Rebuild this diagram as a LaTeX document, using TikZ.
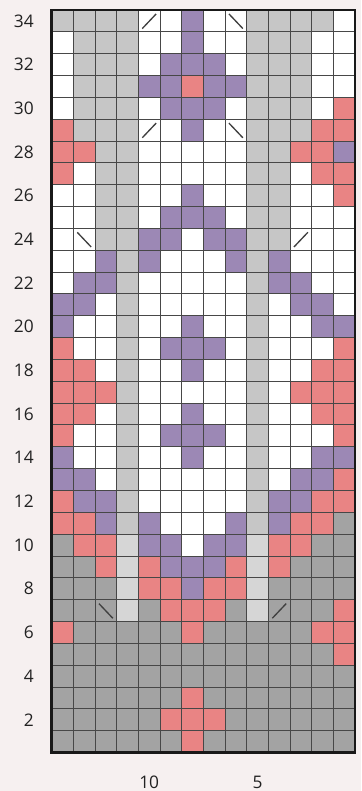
\documentclass[tikz,border=0pt]{standalone}
\usepackage{fontspec}
\setmainfont{Open Sans}
\definecolor{bg}{HTML}{F6F0F0}
\definecolor{cG}{HTML}{C6C6C6}
\definecolor{cD}{HTML}{A3A3A3}
\definecolor{cL}{HTML}{D6D6D6}
\definecolor{cW}{HTML}{FFFFFF}
\definecolor{cP}{HTML}{9C88B5}
\definecolor{cR}{HTML}{E98484}
\definecolor{ink}{HTML}{222222}
\def\cw{21.67}
\def\ch{21.84}
\def\gx{51.7}
\def\gy{10}
\newcommand\chartrow[2]{%
  \foreach \c [count=\i] in {#2} {
    \fill[c\c] ({\gx+(\i-1)*\cw},{\gy+(34-#1)*\ch}) rectangle ++(\cw,\ch);
  }}
\newcommand\slashcell[2]{% col, row : "/"
  \draw[diag] ({\gx+(#1-1+0.18)*\cw},{\gy+(34-#2+0.85)*\ch}) -- ({\gx+(#1-1+0.82)*\cw},{\gy+(34-#2+0.18)*\ch});}
\newcommand\bslashcell[2]{% col, row : "\"
  \draw[diag] ({\gx+(#1-1+0.18)*\cw},{\gy+(34-#2+0.18)*\ch}) -- ({\gx+(#1-1+0.82)*\cw},{\gy+(34-#2+0.85)*\ch});}
\begin{document}
\begin{tikzpicture}[x=0.75pt,y=-0.75pt,
  gridline/.style={draw=black!72,line width=0.75pt},
  diag/.style={draw=black!75,line width=1pt},
  lbl/.style={font=\fontsize{13}{15}\selectfont,text=ink,inner sep=0pt}]
\fill[bg] (0,0) rectangle (361,791);
\useasboundingbox (0,0) rectangle (361,791);
\chartrow{34}{G,G,G,G,W,W,P,W,W,G,G,G,G,W}
\chartrow{33}{W,G,G,G,W,W,P,W,W,G,G,G,W,W}
\chartrow{32}{W,G,G,G,W,P,P,P,W,G,G,G,W,W}
\chartrow{31}{W,G,G,G,P,P,R,P,P,G,G,G,W,W}
\chartrow{30}{W,G,G,G,W,P,P,P,W,G,G,G,W,R}
\chartrow{29}{R,G,G,G,W,W,P,W,W,G,G,G,R,R}
\chartrow{28}{R,R,G,G,W,W,W,W,W,G,G,R,R,P}
\chartrow{27}{R,W,G,G,W,W,W,W,W,G,G,W,R,R}
\chartrow{26}{W,W,G,G,W,W,P,W,W,G,G,W,W,R}
\chartrow{25}{W,W,G,G,W,P,P,P,W,G,G,W,W,W}
\chartrow{24}{W,W,G,G,P,P,W,P,P,G,G,W,W,W}
\chartrow{23}{W,W,P,G,P,W,W,W,P,G,P,W,W,W}
\chartrow{22}{W,P,P,G,W,W,W,W,W,G,P,P,W,W}
\chartrow{21}{P,P,W,G,W,W,W,W,W,G,W,P,P,W}
\chartrow{20}{P,W,W,G,W,W,P,W,W,G,W,W,P,P}
\chartrow{19}{R,W,W,G,W,P,P,P,W,G,W,W,W,R}
\chartrow{18}{R,R,W,G,W,W,P,W,W,G,W,W,R,R}
\chartrow{17}{R,R,R,G,W,W,W,W,W,G,W,R,R,R}
\chartrow{16}{R,R,W,G,W,W,P,W,W,G,W,W,R,R}
\chartrow{15}{R,W,W,G,W,P,P,P,W,G,W,W,W,R}
\chartrow{14}{P,W,W,G,W,W,P,W,W,G,W,W,P,P}
\chartrow{13}{P,P,W,G,W,W,W,W,W,G,W,P,P,R}
\chartrow{12}{R,P,P,G,W,W,W,W,W,G,P,P,R,R}
\chartrow{11}{R,R,P,G,P,W,W,W,P,G,P,R,R,D}
\chartrow{10}{D,R,R,L,P,P,W,P,P,L,R,R,D,D}
\chartrow{9}{D,D,R,L,R,P,P,P,R,L,R,D,D,D}
\chartrow{8}{D,D,D,L,R,R,P,R,R,L,D,D,D,D}
\chartrow{7}{D,D,D,L,D,R,R,R,D,L,D,D,D,R}
\chartrow{6}{R,D,D,D,D,D,R,D,D,D,D,D,R,R}
\chartrow{5}{D,D,D,D,D,D,D,D,D,D,D,D,D,R}
\chartrow{4}{D,D,D,D,D,D,D,D,D,D,D,D,D,D}
\chartrow{3}{D,D,D,D,D,D,R,D,D,D,D,D,D,D}
\chartrow{2}{D,D,D,D,D,R,R,R,D,D,D,D,D,D}
\chartrow{1}{D,D,D,D,D,D,R,D,D,D,D,D,D,D}
% grid lines
\foreach \i in {1,...,13}
  \draw[gridline] ({\gx+\i*\cw},\gy) -- ({\gx+\i*\cw},{\gy+34*\ch});
\foreach \j in {1,...,33}
  \draw[gridline] (\gx,{\gy+\j*\ch}) -- ({\gx+14*\cw},{\gy+\j*\ch});
% decrease marks
\slashcell{5}{34}\bslashcell{9}{34}
\slashcell{5}{29}\bslashcell{9}{29}
\bslashcell{2}{24}\slashcell{12}{24}
\bslashcell{3}{7}\slashcell{11}{7}
% border
\draw[draw=black!90,line width=2pt] (\gx,\gy) rectangle ({\gx+14*\cw},{\gy+34*\ch});
% row labels
\foreach \r in {2,4,...,34}
  \node[lbl,anchor=east] (r\r) at (34,{\gy+(34-\r+0.5)*\ch}) {\r};
% column labels
\node[lbl] (c10) at ({\gx+4.5*\cw},782) {10};
\node[lbl] (c5) at ({\gx+9.5*\cw},782) {5};
\end{tikzpicture}
\end{document}
